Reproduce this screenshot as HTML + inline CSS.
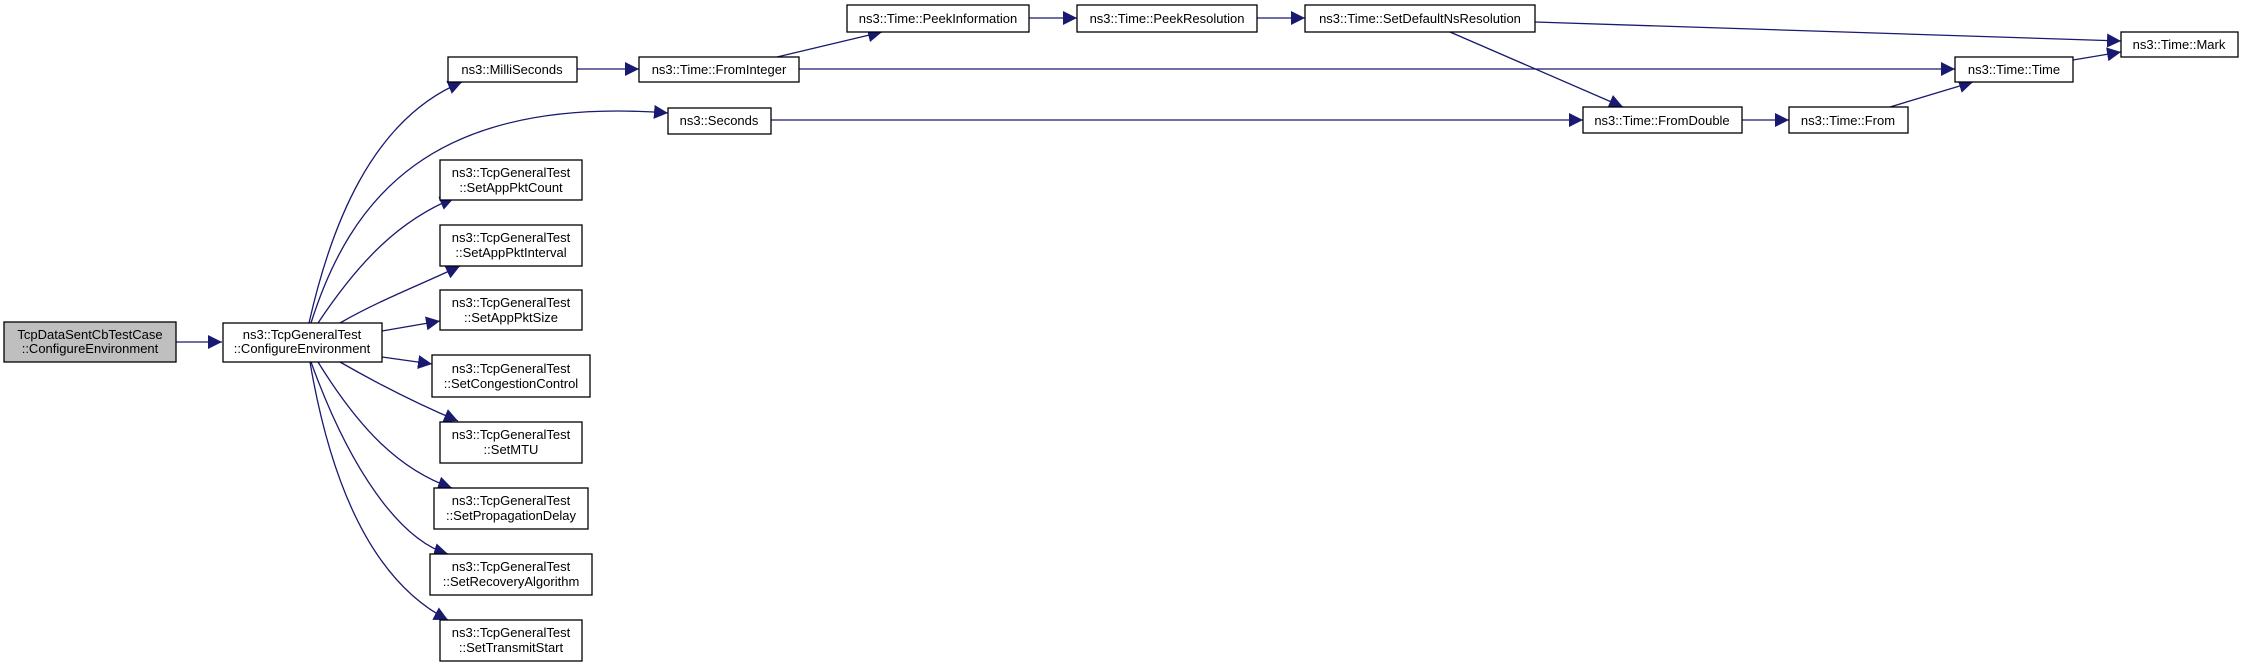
<!DOCTYPE html>
<html><head><meta charset="utf-8"><style>
html,body{margin:0;padding:0;background:#fff;}
svg{display:block;}
text{font-family:"Liberation Sans",Arial,sans-serif;font-size:13px;fill:#000;}
</style></head><body>
<svg width="2244" height="662" viewBox="0 0 2244 662" xmlns="http://www.w3.org/2000/svg">
<defs>
<marker id="a" viewBox="0 0 10 10" refX="10" refY="5" markerWidth="14" markerHeight="14" markerUnits="userSpaceOnUse" orient="auto">
<path d="M0,0 L10,5 L0,10 z" fill="#191970"/>
</marker>
</defs>
<g fill="none" stroke="#191970" stroke-width="1.3" marker-end="url(#a)">
<path d="M176,342 L222,342"/>
<path d="M309,323 C330,230 370,120 462,82"/>
<path d="M311,323 C350,200 430,95 668,113"/>
<path d="M318,323 C360,260 400,220 454,198"/>
<path d="M340,323 C380,300 420,285 460,266"/>
<path d="M382,331 L440,321"/>
<path d="M382,357 L432,364"/>
<path d="M340,362 C380,385 420,405 458,421"/>
<path d="M318,362 C360,430 400,470 452,488"/>
<path d="M311,362 C350,470 400,540 448,554"/>
<path d="M310,362 C330,480 370,580 448,620"/>
<path d="M577,69 L639,69"/>
<path d="M777,57 L882,32"/>
<path d="M799,69 L1955,69"/>
<path d="M1029,18 L1077,18"/>
<path d="M1257,18 L1305,18"/>
<path d="M1535,22 L2121,41"/>
<path d="M1450,32 L1623,107"/>
<path d="M771,120 L1583,120"/>
<path d="M1742,120 L1789,120"/>
<path d="M1890,107 L1973,82"/>
<path d="M2073,60 L2121,52"/>
</g>
<g stroke="#000" stroke-width="1.3" fill="#fff">
<rect x="4" y="322" width="172" height="40" fill="#bfbfbf"/>
<rect x="223" y="323" width="159" height="39"/>
<rect x="448" y="57" width="129" height="25"/>
<rect x="639" y="57" width="160" height="25"/>
<rect x="668" y="108" width="103" height="26"/>
<rect x="440" y="160" width="142" height="40"/>
<rect x="440" y="225" width="142" height="41"/>
<rect x="440" y="290" width="142" height="40"/>
<rect x="432" y="355" width="158" height="42"/>
<rect x="440" y="422" width="142" height="41"/>
<rect x="434" y="488" width="154" height="41"/>
<rect x="430" y="554" width="162" height="41"/>
<rect x="440" y="620" width="142" height="41"/>
<rect x="847" y="5" width="182" height="27"/>
<rect x="1077" y="5" width="180" height="27"/>
<rect x="1305" y="5" width="230" height="27"/>
<rect x="2121" y="32" width="117" height="25"/>
<rect x="1955" y="57" width="118" height="25"/>
<rect x="1583" y="107" width="159" height="26"/>
<rect x="1789" y="107" width="119" height="26"/>
</g>
<g text-anchor="middle">
<text x="90" y="339">TcpDataSentCbTestCase</text><text x="90" y="353">::ConfigureEnvironment</text>
<text x="302" y="339">ns3::TcpGeneralTest</text><text x="302" y="353">::ConfigureEnvironment</text>
<text x="512" y="74">ns3::MilliSeconds</text>
<text x="719" y="74">ns3::Time::FromInteger</text>
<text x="719" y="125">ns3::Seconds</text>
<text x="511" y="177">ns3::TcpGeneralTest</text><text x="511" y="192">::SetAppPktCount</text>
<text x="511" y="242">ns3::TcpGeneralTest</text><text x="511" y="257">::SetAppPktInterval</text>
<text x="511" y="307">ns3::TcpGeneralTest</text><text x="511" y="322">::SetAppPktSize</text>
<text x="511" y="373">ns3::TcpGeneralTest</text><text x="511" y="388">::SetCongestionControl</text>
<text x="511" y="439">ns3::TcpGeneralTest</text><text x="511" y="454">::SetMTU</text>
<text x="511" y="505">ns3::TcpGeneralTest</text><text x="511" y="520">::SetPropagationDelay</text>
<text x="511" y="571">ns3::TcpGeneralTest</text><text x="511" y="586">::SetRecoveryAlgorithm</text>
<text x="511" y="637">ns3::TcpGeneralTest</text><text x="511" y="652">::SetTransmitStart</text>
<text x="938" y="23">ns3::Time::PeekInformation</text>
<text x="1167" y="23">ns3::Time::PeekResolution</text>
<text x="1420" y="23">ns3::Time::SetDefaultNsResolution</text>
<text x="2179" y="49">ns3::Time::Mark</text>
<text x="2014" y="74">ns3::Time::Time</text>
<text x="1662" y="125">ns3::Time::FromDouble</text>
<text x="1848" y="125">ns3::Time::From</text>
</g>
</svg>
</body></html>
